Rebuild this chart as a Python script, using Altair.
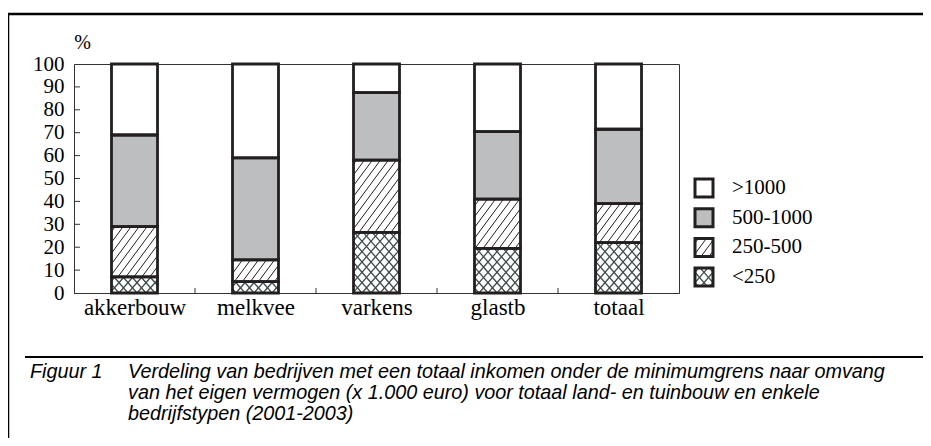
import math
import altair as alt
import pandas as pd

# ---------------- data ----------------
categories = ["akkerbouw", "melkvee", "varkens", "glastb", "totaal"]
classes = ["<250", "250-500", "500-1000", ">1000"]
v_lt250 = [7, 5, 26.5, 19.5, 22]
v_250_500 = [22, 9.5, 31.5, 21.5, 17]
v_500_1000 = [40, 44.5, 29.5, 29.5, 32.5]
v_gt1000 = [31, 41, 12.5, 29.5, 28.5]
y_ticks = list(range(0, 101, 10))
legend_order = [">1000", "500-1000", "250-500", "<250"]
caption_label = "Figuur 1"
caption_lines = [
    "Verdeling van bedrijven met een totaal inkomen onder de minimumgrens naar omvang",
    "van het eigen vermogen (x 1.000 euro) voor totaal land- en tuinbouw en enkele",
    "bedrijfstypen (2001-2003)",
]

# ---------------- layout / style ----------------
W, H = 605, 229
XU = W / len(categories)   # px per x unit
YU = H / 100.0             # px per y unit
BAR_PX = 46
INK = "#231f20"
GREY = "#bcbec0"
XHATCH = "#3e4c4c"
SERIF = "Liberation Serif, Times New Roman, serif"
CAPFONT = "Liberation Sans, Arial, sans-serif"

fill_range = {">1000": "white", "500-1000": GREY, "250-500": "white", "<250": "white"}
color_scale = alt.Scale(domain=classes, range=[fill_range[c] for c in classes])


def hatch(x0, x1, y0, y1, d, s):
    """Clip a family of parallel lines y = s*(x - k*d) to a rectangle (px, y up)."""
    segs = []
    cands = [x0 - y0 / s, x0 - y1 / s, x1 - y0 / s, x1 - y1 / s]
    k0 = math.floor(min(cands) / d) - 1
    k1 = math.ceil(max(cands) / d) + 1
    for k in range(k0, k1 + 1):
        c = k * d
        xa_, xb_ = c + y0 / s, c + y1 / s
        lo, hi = min(xa_, xb_), max(xa_, xb_)
        xa, xb = max(x0, lo), min(x1, hi)
        if xb - xa > 0.3:
            segs.append((xa, s * (xa - c), xb, s * (xb - c)))
    return segs


def pattern_segments(cls, x0, x1, y0, y1):
    out = []
    if cls == "250-500":
        for sg in hatch(x0, x1, y0, y1, 8.0, 1.35):
            out.append(sg + ("diag",))
    elif cls == "<250":
        for s in (1.15, -1.15):
            for sg in hatch(x0, x1, y0, y1, 9.0, s):
                out.append(sg + ("cross",))
    return out


# bars
series = {"<250": v_lt250, "250-500": v_250_500, "500-1000": v_500_1000, ">1000": v_gt1000}
rows, hrows = [], []
half = BAR_PX / 2 / XU
for i, cat in enumerate(categories):
    cum = 0.0
    for cls in classes:
        v = series[cls][i]
        r = dict(cat=cat, klasse=cls, x=i + 0.5 - half, x2=i + 0.5 + half, y=cum, y2=cum + v)
        rows.append(r)
        for (xa, ya, xb, yb, kind) in pattern_segments(cls, r["x"] * XU, r["x2"] * XU, r["y"] * YU, r["y2"] * YU):
            hrows.append(dict(x=xa / XU, y=ya / YU, x2=xb / XU, y2=yb / YU, kind=kind))
        cum += v
bars = pd.DataFrame(rows)

# legend (in plot coordinates)
LEG_X = 621      # px from plot left
LEG_TOP = 124    # px from plot top (centre of first item)
LEG_DY = 29.7
LEG_SQ = 18
LEG_TXT = 658
lrows = []
for j, cls in enumerate(legend_order):
    cy_up = H - (LEG_TOP + j * LEG_DY)
    x0, x1 = LEG_X, LEG_X + LEG_SQ
    y0, y1 = cy_up - LEG_SQ / 2, cy_up + LEG_SQ / 2
    lrows.append(dict(klasse=cls, x=x0 / XU, x2=x1 / XU, y=y0 / YU, y2=y1 / YU,
                      tx=LEG_TXT / XU, ty=cy_up / YU))
    for (xa, ya, xb, yb, kind) in pattern_segments(cls, x0, x1, y0, y1):
        hrows.append(dict(x=xa / XU, y=ya / YU, x2=xb / XU, y2=yb / YU, kind=kind))
leg = pd.DataFrame(lrows)
hat = pd.DataFrame(hrows)

xscale = alt.Scale(domain=[0, len(categories)], nice=False, zero=False)
yscale = alt.Scale(domain=[0, 100], nice=False)

label_expr = "[" + ",".join("'%s'" % c for c in categories) + "][floor(datum.value)]"

x_axis = alt.Axis(values=[i + 0.5 for i in range(len(categories))], labelExpr=label_expr,
                  ticks=False, grid=False, labelOverlap=False, title=None,
                  labelFont=SERIF, labelFontSize=23, labelColor="black", labelPadding=3,
                  domainColor="#333", domainWidth=1)
y_axis = alt.Axis(values=y_ticks, tickCount=len(y_ticks), ticks=False, grid=False,
                  labelOverlap=False,
                  labelFont=SERIF, labelFontSize=21,
                  labelColor="black", labelPadding=10, domainColor="#333", domainWidth=1,
                  title="%", titleAngle=0, titleX=8, titleY=-22, titleAlign="center",
                  titleBaseline="middle", titleFont=SERIF, titleFontSize=20,
                  titleFontWeight="normal", titleColor="black")


def X(f):
    return alt.X(f, type="quantitative", scale=xscale, axis=x_axis)


def Y(f):
    return alt.Y(f, type="quantitative", scale=yscale, axis=y_axis)


base = alt.Chart(bars)
fills = base.mark_rect(strokeWidth=0).encode(
    x=X("x"), x2="x2:Q", y=Y("y"), y2="y2:Q",
    fill=alt.Fill("klasse:N", scale=color_scale, legend=None),
)
lbase = alt.Chart(leg)
leg_fill = lbase.mark_rect(strokeWidth=0).encode(
    x=X("x"), x2="x2:Q", y=Y("y"), y2="y2:Q",
    fill=alt.Fill("klasse:N", scale=color_scale, legend=None))

diag = alt.Chart(hat).transform_filter("datum.kind == 'diag'").mark_rule(
    color=INK, strokeWidth=1).encode(x=X("x"), y=Y("y"), x2="x2:Q", y2="y2:Q")
cross = alt.Chart(hat).transform_filter("datum.kind == 'cross'").mark_rule(
    color=XHATCH, strokeWidth=1.3).encode(x=X("x"), y=Y("y"), x2="x2:Q", y2="y2:Q")
outlines = base.mark_rect(fillOpacity=0, stroke=INK, strokeWidth=2.8).encode(
    x=X("x"), x2="x2:Q", y=Y("y"), y2="y2:Q")
leg_out = lbase.mark_rect(fillOpacity=0, stroke=INK, strokeWidth=3).encode(
    x=X("x"), x2="x2:Q", y=Y("y"), y2="y2:Q")
leg_txt = lbase.mark_text(align="left", baseline="middle", font=SERIF, fontSize=21,
                          fontStyle="normal", color="black").encode(
    x=X("tx"), y=Y("ty"), text="klasse:N")

# inward ticks
ytick_df = pd.DataFrame({"v": y_ticks[1:-1]})
yticks = alt.Chart(ytick_df).mark_rule(color="#333", strokeWidth=1).encode(
    y=Y("v"), x=alt.value(0), x2=alt.value(6))
xtick_df = pd.DataFrame({"b": list(range(1, len(categories)))})
xticks = alt.Chart(xtick_df).mark_rule(color="#333", strokeWidth=1).encode(
    x=X("b"), y=alt.value(H), y2=alt.value(H - 5))

# frame and caption
dummy = pd.DataFrame({"d": [0]})
frame_top = alt.Chart(dummy).mark_rule(color="black", strokeWidth=2.5).encode(
    x=alt.value(-66), x2=alt.value(850), y=alt.value(-50))
frame_left = alt.Chart(dummy).mark_rule(color="black", strokeWidth=1.5).encode(
    x=alt.value(-65.5), y=alt.value(-51), y2=alt.value(380))
sep = alt.Chart(dummy).mark_rule(color="black", strokeWidth=2.2).encode(
    x=alt.value(-49), x2=alt.value(850), y=alt.value(293))
cap_style = dict(align="left", baseline="middle", font=CAPFONT, fontSize=19.8,
                 fontStyle="italic", color="black")
cap_layers = [alt.Chart(dummy).mark_text(**cap_style).encode(
    x=alt.value(-44), y=alt.value(308), text=alt.value(caption_label))]
for k, line in enumerate(caption_lines):
    cap_layers.append(alt.Chart(dummy).mark_text(**cap_style).encode(
        x=alt.value(54), y=alt.value(308 + 21 * k), text=alt.value(line)))

chart = alt.layer(
    fills, leg_fill, diag, cross, outlines, leg_out, leg_txt, yticks, xticks,
    frame_top, frame_left, sep, *cap_layers
).properties(
    width=W, height=H,
    autosize=alt.AutoSizeParams(type="none"),
    padding={"left": 66, "top": 56, "right": 244, "bottom": 145},
).configure_view(stroke="#333", strokeWidth=1).configure_text(font=SERIF)

chart.save("out.html", embed_options={"renderer": "svg", "actions": False})
